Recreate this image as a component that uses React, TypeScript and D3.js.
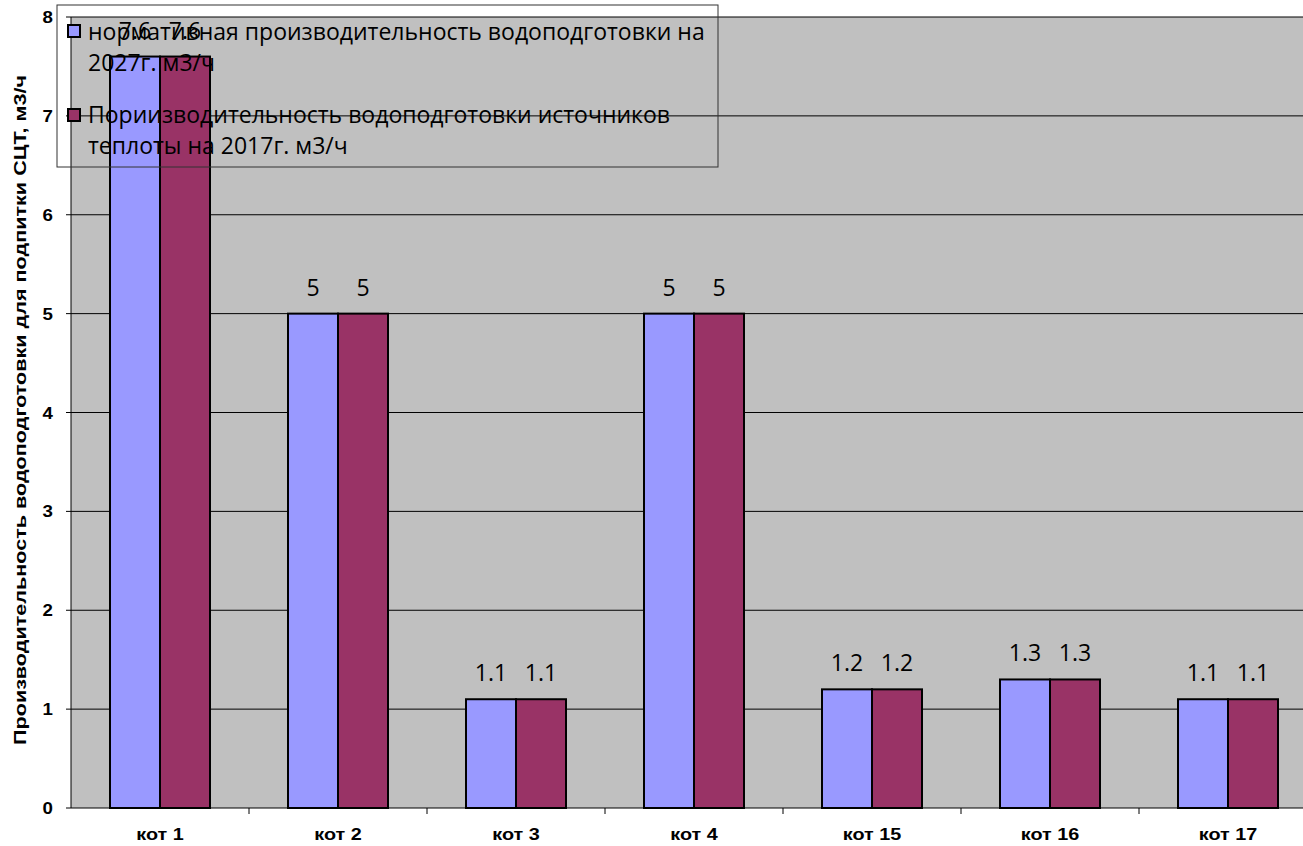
import React from 'react';
import * as d3 from 'd3';

const categories = ['кот 1', 'кот 2', 'кот 3', 'кот 4', 'кот 15', 'кот 16', 'кот 17'];
const seriesNames = [
  ['нормативная производительность водоподготовки на', '2027г. м3/ч'],
  ['Пориизводительность водоподготовки источников', 'теплоты на 2017г. м3/ч'],
];
const normative2027 = [7.6, 5, 1.1, 5, 1.2, 1.3, 1.1];
const actual2017 = [7.6, 5, 1.1, 5, 1.2, 1.3, 1.1];
const yTicks = [0, 1, 2, 3, 4, 5, 6, 7, 8];
const yTitle = 'Производительность водоподготовки для подпитки СЦТ, м3/ч';

const colors = ['#9999FF', '#993366'];
const boldFont = 'Liberation Sans, Arial, sans-serif';
const textFont = 'Open Sans, sans-serif';

export default function App() {
  const width = 1303;
  const height = 846;
  const left = 71;
  const top = 17;
  const bottom = 808;
  const right = 71 + 178 * categories.length;

  const x = d3.scaleBand<string>().domain(categories).range([left, right]).padding(0);
  const inner = d3.scaleBand<string>()
    .domain(['a', 'b'])
    .range([0, x.bandwidth()])
    .paddingInner(0)
    .paddingOuter(0.78);
  const y = d3.scaleLinear().domain([0, 8]).range([bottom, top]);

  const series = [normative2027, actual2017];
  const keys = ['a', 'b'];
  const label = (v: number) => d3.format('')(v);

  return (
    <svg width={width} height={height} style={{ position: 'absolute', left: 0, top: 0, background: '#fff' }}>
      <rect x={left} y={top} width={right - left} height={bottom - top} fill="#C0C0C0" />
      {yTicks.map(t => (
        <g key={t}>
          <line x1={left} x2={right} y1={y(t)} y2={y(t)} stroke="#000" strokeWidth={1} />
          <line x1={left - 5} x2={left} y1={y(t)} y2={y(t)} stroke="#000" strokeWidth={1} />
          <text transform={`translate(53, ${y(t)}) scale(1.1, 1)`} dy="0.36em" textAnchor="end" fontFamily={boldFont} fontWeight="bold" fontSize={17}>{t}</text>
        </g>
      ))}
      <line x1={left} x2={left} y1={top} y2={bottom} stroke="#000" />
      {categories.map((c, i) => {
        const cx = x(c)! + x.bandwidth() / 2;
        return (
          <g key={c}>
            <line x1={x(c)! + x.bandwidth()} x2={x(c)! + x.bandwidth()} y1={bottom} y2={bottom + 6} stroke="#000" />
            <text transform={`translate(${cx}, 840) scale(1.2, 1)`} textAnchor="middle" fontFamily={boldFont} fontWeight="bold" fontSize={16.5}>{c}</text>
            {series.map((s, j) => {
              const bx = x(c)! + inner(keys[j])!;
              return (
                <g key={j}>
                  <rect x={bx} y={y(s[i])} width={inner.bandwidth()} height={bottom - y(s[i])} fill={colors[j]} stroke="#000" strokeWidth={2} />
                  <text x={bx + inner.bandwidth() / 2} y={y(s[i]) - 18} textAnchor="middle" fontFamily={textFont} fontSize={23}>{label(s[i])}</text>
                </g>
              );
            })}
          </g>
        );
      })}
      <text transform={`translate(26, 410) rotate(-90)`} textAnchor="middle" fontFamily={boldFont} fontWeight="bold" fontSize={17} textLength={670} lengthAdjust="spacingAndGlyphs">{yTitle}</text>
      <rect x={57} y={5} width={661} height={162} fill="none" stroke="#333" strokeWidth={1} />
      {seriesNames.map((lines, j) => (
        <g key={j}>
          <rect x={68} y={25 + j * 84} width={12} height={12} fill={colors[j]} stroke="#000" strokeWidth={2} />
          {lines.map((ln, k) => (
            <text key={k} x={88} y={40 + j * 83 + k * 31} fontFamily={textFont} fontSize={23}>{ln}</text>
          ))}
        </g>
      ))}
    </svg>
  );
}
